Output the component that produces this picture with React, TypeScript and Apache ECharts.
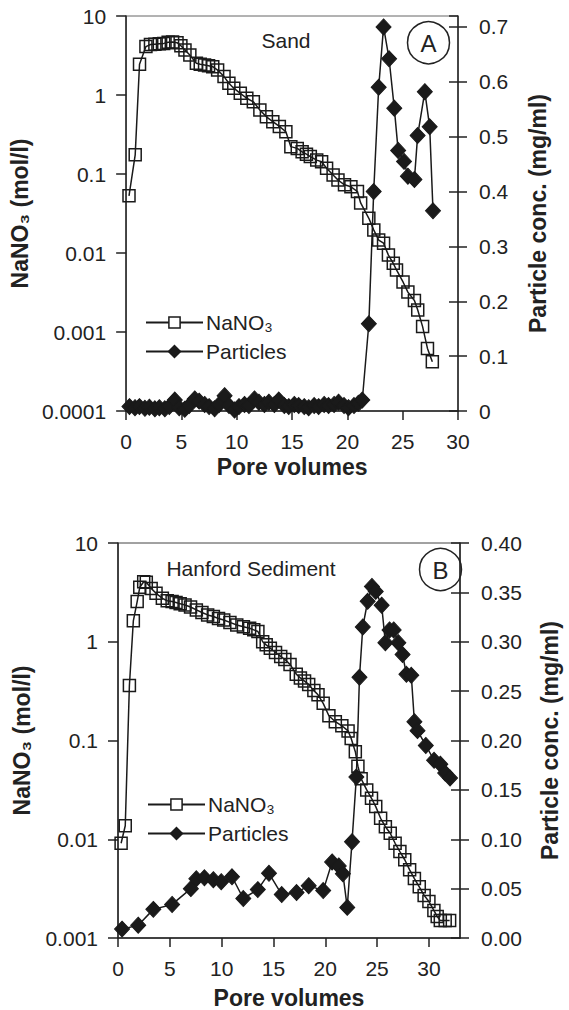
import React, { useEffect, useRef } from "react";
import * as echarts from "echarts";

// ---------- Data ----------
// Panel A: Sand — [pore volumes, NaNO3 mol/l]
const sandNaNO3: [number, number][] = [
  [0.26, 0.053], [0.82, 0.175], [1.21, 2.45], [1.79, 4.1], [2.2, 4.35], [2.6, 4.4],
  [3.0, 4.45], [3.4, 4.5], [3.8, 4.65], [4.2, 4.7], [4.6, 4.6], [4.95, 4.2],
  [5.32, 3.72], [5.76, 3.2], [6.35, 2.52], [6.7, 2.45], [7.09, 2.4], [7.45, 2.35],
  [7.83, 2.28], [8.27, 2.07], [8.85, 1.71], [9.29, 1.41], [9.73, 1.22], [10.32, 1.05],
  [10.91, 0.91], [11.5, 0.82], [12.09, 0.645], [12.68, 0.53], [13.26, 0.46], [13.85, 0.4],
  [14.44, 0.343], [14.89, 0.222], [15.47, 0.211], [15.91, 0.191], [16.3, 0.178], [16.65, 0.166],
  [17.23, 0.15], [17.67, 0.143], [18.12, 0.118], [18.71, 0.097], [19.15, 0.084], [19.74, 0.073],
  [20.32, 0.069], [20.91, 0.06], [21.2, 0.043], [21.94, 0.0275], [22.39, 0.0195], [22.83, 0.0146],
  [23.27, 0.0133], [23.71, 0.0094], [24.15, 0.0074], [24.44, 0.0061], [25.03, 0.0043], [25.47, 0.0032],
  [26.06, 0.0025], [26.36, 0.0019], [26.8, 0.00117], [27.24, 0.00062], [27.68, 0.00042],
];
// Panel A: Sand — [pore volumes, particle conc. mg/ml]
const sandParticles: [number, number][] = [
  [0.3, 0.008], [0.8, 0.006], [1.2, 0.008], [1.7, 0.005], [2.1, 0.007], [2.6, 0.004],
  [3.0, 0.006], [3.5, 0.004], [3.9, 0.008], [4.4, 0.02], [4.8, 0.006], [5.3, 0.003],
  [5.7, 0.01], [6.2, 0.022], [6.6, 0.018], [7.1, 0.012], [7.5, 0.008], [8.0, 0.004],
  [8.4, 0.012], [8.9, 0.028], [9.3, 0.01], [9.8, 0.002], [10.2, 0.008], [10.7, 0.012],
  [11.1, 0.01], [11.6, 0.022], [12.0, 0.016], [12.5, 0.012], [12.9, 0.016], [13.4, 0.012],
  [13.8, 0.02], [14.3, 0.01], [14.7, 0.008], [15.2, 0.012], [15.6, 0.01], [16.1, 0.008],
  [16.5, 0.006], [17.0, 0.01], [17.4, 0.008], [17.9, 0.012], [18.3, 0.01], [18.8, 0.012],
  [19.2, 0.016], [19.7, 0.01], [20.1, 0.006], [20.6, 0.01], [21.0, 0.014], [21.35, 0.02],
  [21.94, 0.159], [22.38, 0.4], [22.83, 0.59], [23.27, 0.7], [23.77, 0.642], [24.24, 0.552],
  [24.59, 0.475], [25.12, 0.455], [25.47, 0.428], [26.06, 0.422], [26.35, 0.502], [27.0, 0.582],
  [27.44, 0.518], [27.74, 0.365],
];
// Panel B: Hanford Sediment — [pore volumes, NaNO3 mol/l]
const hanfordNaNO3: [number, number][] = [
  [0.3, 0.0091], [0.7, 0.0137], [1.1, 0.36], [1.48, 1.63], [1.85, 2.55], [2.1, 3.56],
  [2.48, 4.05], [2.73, 4.0], [3.2, 3.47], [3.67, 3.1], [4.28, 2.75], [4.75, 2.6],
  [5.22, 2.55], [5.6, 2.5], [6.0, 2.42], [6.47, 2.36], [7.0, 2.25], [7.56, 2.1],
  [8.1, 1.98], [8.65, 1.87], [9.2, 1.8], [9.7, 1.72], [10.2, 1.66], [10.8, 1.57],
  [11.46, 1.48], [12.1, 1.42], [12.7, 1.37], [13.1, 1.32], [13.5, 1.27], [13.96, 1.0],
  [14.3, 0.93], [14.7, 0.86], [15.2, 0.78], [15.7, 0.71], [16.1, 0.66], [16.6, 0.59],
  [17.2, 0.47], [17.6, 0.43], [18.0, 0.4], [18.4, 0.37], [18.9, 0.32], [19.3, 0.29],
  [19.8, 0.238], [20.35, 0.178], [20.97, 0.155], [21.6, 0.141], [22.2, 0.125], [22.5, 0.105],
  [22.9, 0.077], [23.15, 0.055], [23.46, 0.041], [24.0, 0.0316], [24.46, 0.026], [24.87, 0.0214],
  [25.34, 0.0163], [25.8, 0.0134], [26.27, 0.0115], [26.74, 0.0091], [27.2, 0.0075], [27.67, 0.0062],
  [28.14, 0.0049], [28.6, 0.004], [29.07, 0.0033], [29.54, 0.0027], [30.0, 0.00234], [30.48, 0.0019],
  [30.8, 0.00165], [31.1, 0.0015], [31.57, 0.0015], [32.0, 0.0015],
];
// Panel B: Hanford Sediment — [pore volumes, particle conc. mg/ml]
const hanfordParticles: [number, number][] = [
  [0.39, 0.009], [1.95, 0.013], [3.41, 0.029], [5.22, 0.034], [7.03, 0.05], [7.56, 0.06],
  [8.34, 0.061], [9.2, 0.059], [9.96, 0.057], [11.0, 0.062], [12.09, 0.04], [13.49, 0.049],
  [14.57, 0.0655], [15.8, 0.044], [17.23, 0.046], [18.4, 0.053], [19.8, 0.048], [20.66, 0.077],
  [21.3, 0.073], [21.7, 0.065], [22.12, 0.031], [22.58, 0.0975], [23.0, 0.163], [23.3, 0.264],
  [23.62, 0.315], [24.09, 0.341], [24.5, 0.356], [24.87, 0.351], [25.44, 0.337], [25.8, 0.299],
  [26.2, 0.312], [26.6, 0.312], [27.05, 0.299], [27.46, 0.287], [27.83, 0.267], [28.3, 0.266],
  [28.6, 0.219], [28.9, 0.21], [29.7, 0.195], [30.5, 0.18], [31.1, 0.176], [31.57, 0.167],
  [32.04, 0.162],
];

const seriesNames = ["NaNO₃", "Particles"];
const panelTitles = ["Sand", "Hanford Sediment"];
const panelLetters = ["A", "B"];
const xTitle = "Pore volumes";
const leftTitle = "NaNO₃ (mol/l)";
const rightTitle = "Particle conc. (mg/ml)";

// ---------- Styling ----------
const FONT = "'Liberation Sans', Arial, Helvetica, sans-serif";
const INK = "#1a1a1a";
const AXIS = "#222";

const logLabel = (v: number) => {
  const e = Math.round(Math.log10(v));
  return e >= 0 ? String(Math.pow(10, e)) : "0." + "0".repeat(-e - 1) + "1";
};
const stepLabel = (step: number, digits: number) => (v: number) => {
  const k = Math.round(v / step);
  if (Math.abs(v / step - k) > 1e-6) return "";
  const val = k * step;
  return k === 0 && digits === 1 ? "0" : val.toFixed(digits);
};

const tickLabel = { fontFamily: FONT, fontSize: 21, color: AXIS };
const nameStyle = { fontFamily: FONT, fontSize: 23, fontWeight: "bold" as const, color: AXIS };
const axisLine = { show: true, lineStyle: { color: AXIS, width: 1.5 } };

function xAxis(gridIndex: number, max: number, nameGap: number) {
  return {
    type: "value",
    gridIndex,
    min: 0,
    max,
    interval: 5,
    axisLine: { ...axisLine, onZero: false },
    axisTick: { show: true, inside: false, length: 9, lineStyle: { color: AXIS, width: 1.5 } },
    axisLabel: { ...tickLabel, margin: 20, formatter: stepLabel(5, 0), showMaxLabel: max % 5 === 0 },
    splitLine: { show: false },
    name: xTitle,
    nameLocation: "middle",
    nameGap,
    nameTextStyle: nameStyle,
  };
}

function leftLog(gridIndex: number, min: number) {
  return {
    type: "log",
    logBase: 10,
    gridIndex,
    position: "left",
    min,
    max: 10,
    axisLine,
    axisTick: { show: true, inside: false, length: 10, lineStyle: { color: AXIS, width: 1.5 } },
    axisLabel: { ...tickLabel, margin: 20, formatter: logLabel },
    minorTick: { show: false },
    splitLine: { show: false },
    name: leftTitle,
    nameLocation: "middle",
    nameGap: 85,
    nameTextStyle: nameStyle,
  };
}

function rightLin(gridIndex: number, max: number, interval: number, digits: number, nameGap: number, margin: number) {
  return {
    type: "value",
    gridIndex,
    position: "right",
    min: 0,
    max,
    interval,
    axisLine,
    axisTick: { show: true, inside: false, length: 9, lineStyle: { color: AXIS, width: 1.5 } },
    axisLabel: { ...tickLabel, margin, formatter: stepLabel(interval, digits), showMaxLabel: Math.abs(max / interval - Math.round(max / interval)) < 1e-6 },
    splitLine: { show: false },
    name: rightTitle,
    nameLocation: "middle",
    nameGap,
    nameTextStyle: nameStyle,
  };
}

function rightInnerTicks(gridIndex: number, max: number, interval: number) {
  return {
    type: "value",
    gridIndex,
    position: "right",
    min: 0,
    max,
    interval,
    axisLine: { show: false },
    axisTick: { show: true, inside: true, length: 9, lineStyle: { color: AXIS, width: 1.5 } },
    axisLabel: { show: false },
    splitLine: { show: false },
  };
}

const nano3Series = (data: [number, number][], xAxisIndex: number, yAxisIndex: number) => ({
  name: seriesNames[0],
  type: "line",
  xAxisIndex,
  yAxisIndex,
  data,
  symbol: "rect",
  symbolSize: 12,
  itemStyle: { color: "rgba(255,255,255,0)", borderColor: INK, borderWidth: 1.5 },
  lineStyle: { color: INK, width: 1.5 },
  z: 3,
});

const particleSeries = (data: [number, number][], xAxisIndex: number, yAxisIndex: number) => ({
  name: seriesNames[1],
  type: "line",
  xAxisIndex,
  yAxisIndex,
  data,
  symbol: "diamond",
  symbolSize: [15, 16],
  itemStyle: { color: INK, borderColor: INK, borderWidth: 1 },
  lineStyle: { color: INK, width: 1.5 },
  z: 4,
});

const legend = (left: number, top: number) => ({
  data: [
    { name: seriesNames[0], itemStyle: { color: "#fff", borderColor: INK, borderWidth: 1.5 } },
    { name: seriesNames[1] },
  ],
  orient: "vertical",
  left,
  top,
  itemWidth: 57,
  itemHeight: 14,
  itemGap: 8,
  textStyle: { fontFamily: FONT, fontSize: 21, color: AXIS, padding: [0, 0, 0, -2] },
  selectedMode: false,
});

const textEl = (x: number, y: number, text: string, fontSize: number) => ({
  type: "text",
  x,
  y,
  style: { text, fontFamily: FONT, fontSize, fill: AXIS, align: "center", verticalAlign: "middle" },
});

const circleEl = (cx: number, cy: number, r: number) => ({
  type: "circle",
  shape: { cx, cy, r },
  style: { fill: "none", stroke: AXIS, lineWidth: 1.5 },
});

export default function App() {
  const ref = useRef<HTMLDivElement>(null);
  useEffect(() => {
    if (!ref.current) return;
    const chart = echarts.init(ref.current, undefined, { renderer: "svg" });
    chart.setOption({
      animation: false,
      backgroundColor: "#fff",
      grid: [
        { left: 118, top: 16, width: 340, height: 395, show: true, borderColor: "#666", borderWidth: 1, backgroundColor: "transparent" },
        { left: 118, top: 543, width: 351, height: 395, show: true, borderColor: "#444", borderWidth: 1, backgroundColor: "transparent" },
      ],
      xAxis: [xAxis(0, 30, 44), xAxis(1, 33, 48)],
      yAxis: [
        leftLog(0, 0.0001),
        rightLin(0, 0.72, 0.1, 1, 68, 21),
        rightInnerTicks(0, 0.72, 0.1),
        leftLog(1, 0.001),
        rightLin(1, 0.4, 0.05, 2, 78, 21),
        rightInnerTicks(1, 0.4, 0.05),
      ],
      legend: [legend(140, 307), legend(142, 789)],
      series: [
        nano3Series(sandNaNO3, 0, 0),
        particleSeries(sandParticles, 0, 1),
        nano3Series(hanfordNaNO3, 1, 3),
        particleSeries(hanfordParticles, 1, 4),
      ],
      graphic: [
        textEl(286, 40, panelTitles[0], 21),
        circleEl(428.5, 42.7, 21),
        textEl(428.5, 43, panelLetters[0], 24),
        textEl(251, 568, panelTitles[1], 21),
        circleEl(440.5, 569.5, 21),
        textEl(440.5, 570, panelLetters[1], 24),
      ],
    });
    return () => chart.dispose();
  }, []);
  return (
    <div
      ref={ref}
      style={{ position: "absolute", left: 0, top: 0, width: 569, height: 1010, background: "#fff" }}
    />
  );
}
